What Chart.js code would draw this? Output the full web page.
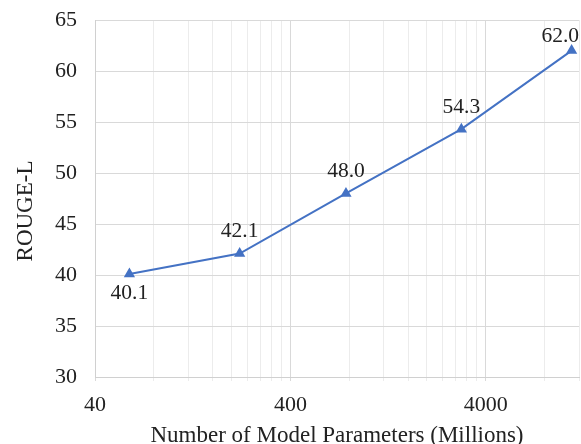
<!DOCTYPE html>
<html>
<head>
<meta charset="utf-8">
<script src="https://cdn.jsdelivr.net/npm/chart.js@4"></script>
<style>
html,body{margin:0;padding:0;background:#fff;}
canvas{display:block;}
</style>
</head>
<body>
<canvas id="c" width="581" height="444" style="width:581px;height:444px"></canvas>
<script>
// Data
const modelParams = [60, 220, 770, 3000, 11000];     // millions
const rougeL = [40.1, 42.1, 48.0, 54.3, 62.0];
const xTickLabels = [40, 400, 4000];
const yTicks = [30, 35, 40, 45, 50, 55, 60, 65];
const xTitle = 'Number of Model Parameters (Millions)';
const yTitle = 'ROUGE-L';

const FONT = '"Liberation Serif", "Times New Roman", serif';
const BLUE = '#4472C4';

const labelPlugin = {
  id: 'valueLabels',
  afterDatasetsDraw(chart) {
    const ctx = chart.ctx;
    const meta = chart.getDatasetMeta(0);
    const area = chart.chartArea;
    ctx.save();
    ctx.font = '21.5px ' + FONT;
    ctx.fillStyle = '#222';
    ctx.textAlign = 'center';
    ctx.textBaseline = 'middle';
    meta.data.forEach((pt, i) => {
      const txt = rougeL[i].toFixed(1);
      let x = pt.x, y;
      if (i === 0) y = pt.y + 19; else y = Math.max(pt.y - 22, area.top + 16);
      const w = ctx.measureText(txt).width;
      if (x + w / 2 > chart.width - 2) x = chart.width - 2 - w / 2;
      ctx.fillText(txt, x, y);
    });
    ctx.restore();
  },
  afterDraw(chart) {
    const ctx = chart.ctx;
    ctx.save();
    ctx.font = '23px ' + FONT;
    ctx.fillStyle = '#222';
    ctx.textAlign = 'center';
    ctx.textBaseline = 'middle';
    ctx.translate(26, 211);
    ctx.rotate(-Math.PI / 2);
    ctx.fillText(yTitle, 0, 0);
    ctx.restore();
  }
};

const majorX = xTickLabels;
new Chart(document.getElementById('c'), {
  type: 'line',
  data: {
    datasets: [{
      data: modelParams.map((x, i) => ({ x: x, y: rougeL[i] })),
      borderColor: BLUE,
      backgroundColor: BLUE,
      borderWidth: 2,
      pointStyle: 'triangle',
      pointRadius: 4.5,
      pointBackgroundColor: BLUE,
      pointBorderColor: BLUE,
      tension: 0,
      clip: false
    }]
  },
  options: {
    responsive: false,
    maintainAspectRatio: false,
    animation: false,
    devicePixelRatio: 1,
    layout: { autoPadding: false, padding: { top: 20, right: 2, left: 0, bottom: 0 } },
    plugins: { legend: { display: false }, tooltip: { enabled: false } },
    scales: {
      x: {
        type: 'logarithmic',
        min: 40,
        max: 12000,
        afterBuildTicks(scale) {
          const t = [];
          for (let d = 40; d <= 4000; d *= 10) {
            for (let k = 1; k <= 9; k++) {
              const v = d * k;
              if (v <= 12000) t.push({ value: v });
            }
          }
          t.push({ value: 12000 });
          const seen = new Set();
          scale.ticks = t.filter(o => { if (seen.has(o.value)) return false; seen.add(o.value); return true; });
        },
        afterFit(scale) { scale.height = 67; scale.paddingLeft = 0; scale.paddingRight = 0; },
        ticks: {
          autoSkip: false,
          maxRotation: 0,
          padding: 11,
          color: '#222',
          font: { family: FONT, size: 22 },
          callback: (v) => majorX.includes(v) ? String(v) : ''
        },
        grid: {
          color: (c) => (c.tick && majorX.includes(c.tick.value)) ? '#d9d9d9' : '#ececec',
          tickLength: 4,
          lineWidth: 1
        },
        border: { color: '#d0d0d0' },
        title: {
          display: true,
          text: xTitle,
          color: '#222',
          font: { family: FONT, size: 23 },
          padding: { top: 0, bottom: -6 }
        }
      },
      y: {
        min: 30,
        max: 65,
        afterBuildTicks(scale) { scale.ticks = yTicks.map(v => ({ value: v })); },
        afterFit(scale) { scale.width = 95; scale.paddingTop = 0; scale.paddingBottom = 0; },
        ticks: {
          padding: 18,
          color: '#222',
          font: { family: FONT, size: 22 }
        },
        grid: { color: '#d9d9d9', drawTicks: false },
        border: { color: '#d0d0d0' }
      }
    }
  },
  plugins: [labelPlugin]
});
</script>
</body>
</html>
